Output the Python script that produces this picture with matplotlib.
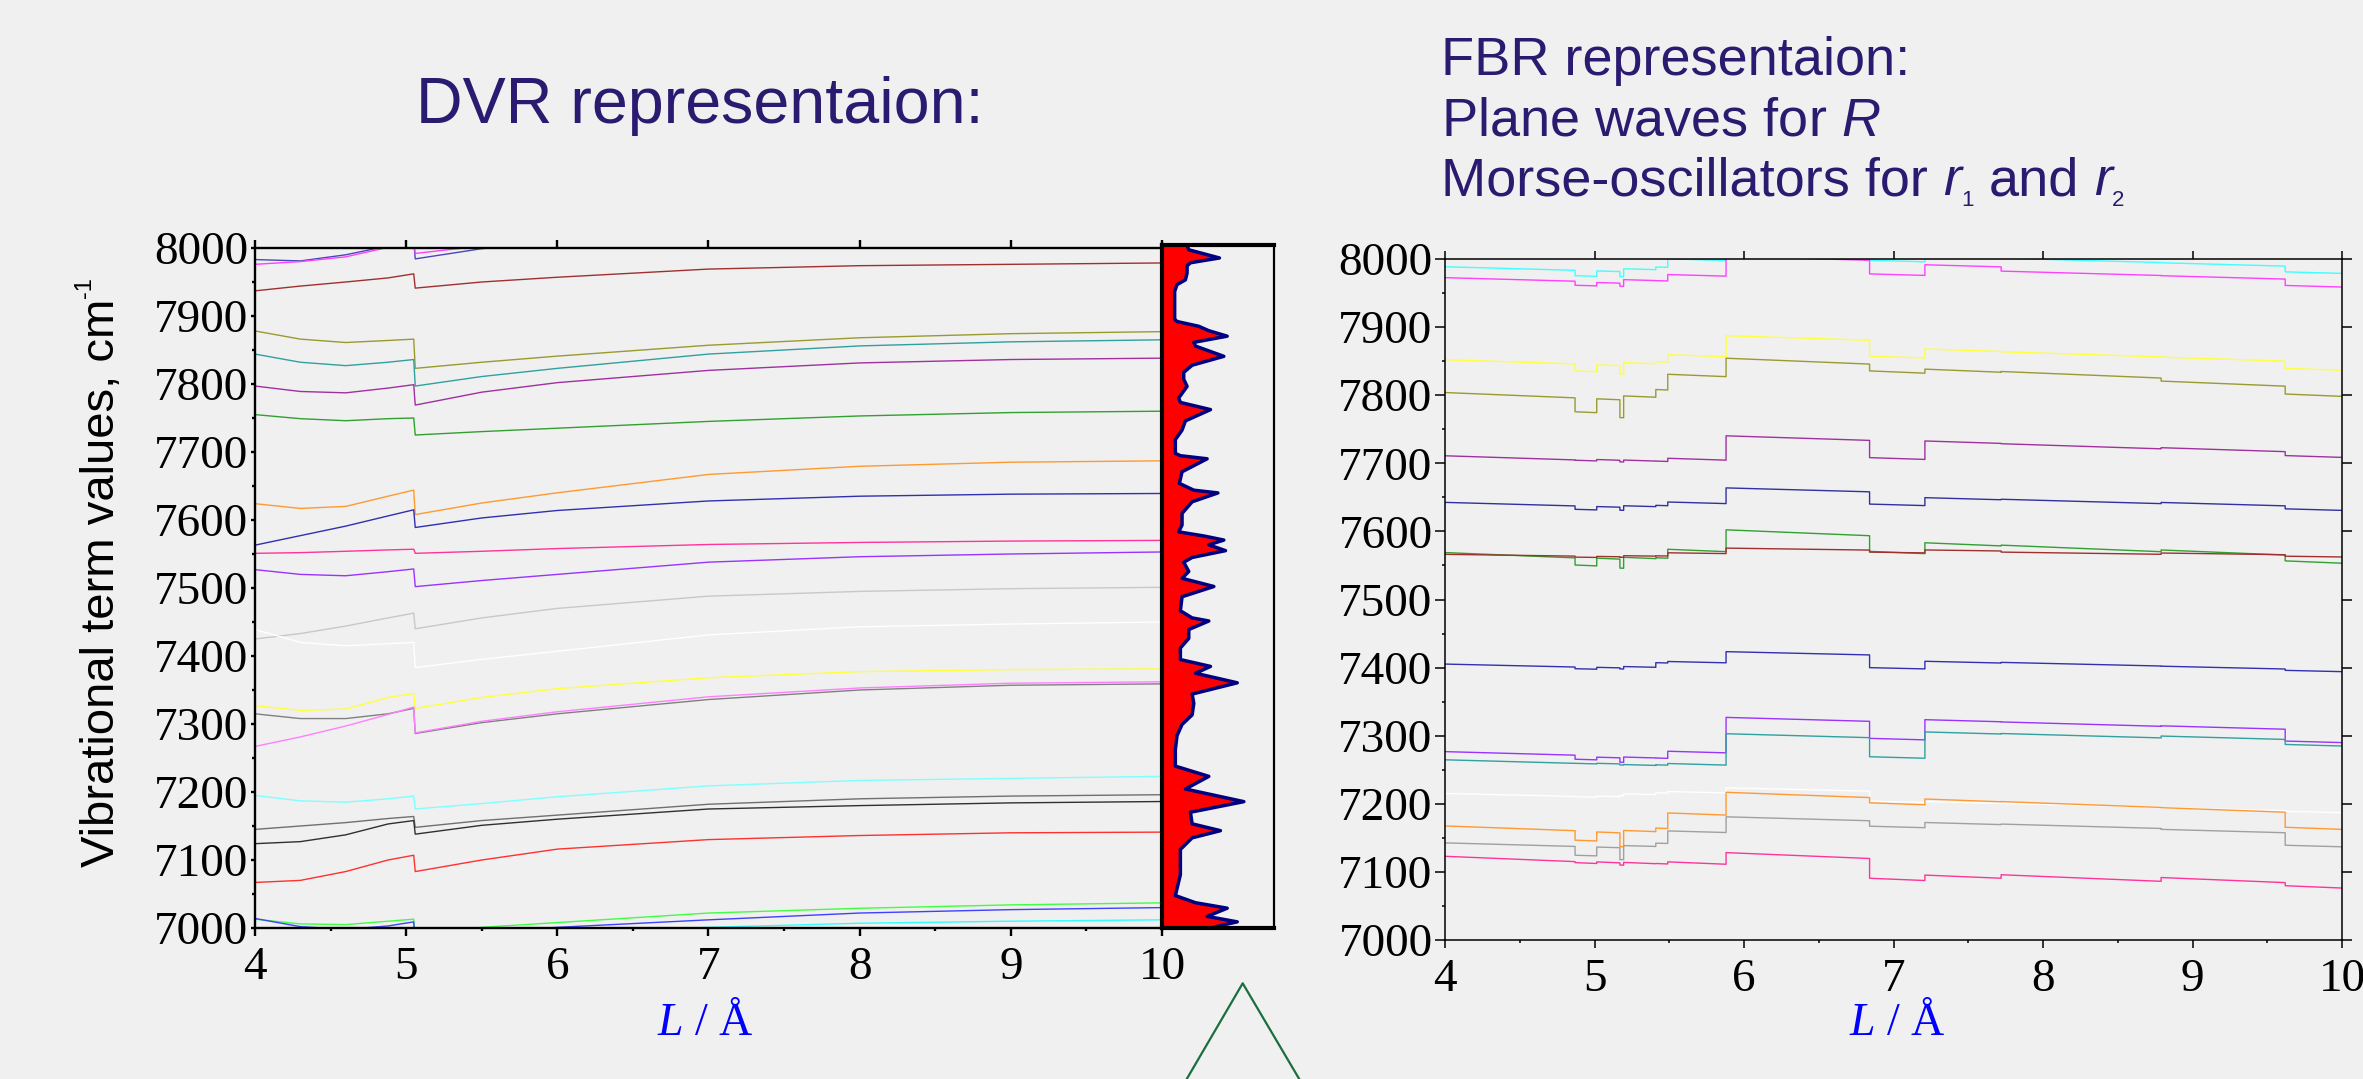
import numpy as np
import matplotlib
matplotlib.use("Agg")
import matplotlib.pyplot as plt
from matplotlib.lines import Line2D
from matplotlib.ticker import MultipleLocator

# ---------------- data ----------------
# DVR panel: term values (cm-1) read at these L values
dvr_L = [4.0, 4.3, 4.6, 4.88, 5.05, 5.06, 5.5, 6.0, 7.0, 8.0, 9.0, 10.0]
dvr_curves = [
    ("#4848b8", [7983, 7981, 7990, 8003, 8010, 7984, 7999, 8010, 8025, 8032, 8036, 8038]),
    ("#ff40ff", [7976, 7980, 7987, 8001, 8008, 7992, 8003, 8012, 8025, 8032, 8036, 8038]),
    ("#a03030", [7937, 7944, 7950, 7956, 7962, 7941, 7950, 7957, 7969, 7974, 7976, 7978]),
    ("#9a9a30", [7878, 7866, 7861, 7864, 7866, 7823, 7832, 7841, 7857, 7868, 7874, 7877]),
    ("#30a0a0", [7844, 7832, 7827, 7832, 7836, 7797, 7811, 7823, 7844, 7856, 7862, 7865]),
    ("#a030a0", [7797, 7789, 7787, 7794, 7799, 7769, 7788, 7802, 7820, 7831, 7836, 7838]),
    ("#30a030", [7755, 7749, 7746, 7749, 7750, 7725, 7730, 7735, 7745, 7753, 7758, 7760]),
    ("#ff9a30", [7624, 7617, 7620, 7635, 7644, 7608, 7625, 7640, 7667, 7679, 7685, 7687]),
    ("#3030b0", [7563, 7577, 7591, 7606, 7615, 7589, 7603, 7614, 7628, 7635, 7638, 7639]),
    ("#ff3399", [7551, 7552, 7554, 7556, 7557, 7551, 7554, 7558, 7564, 7567, 7569, 7570]),
    ("#9933ff", [7527, 7520, 7518, 7524, 7528, 7502, 7511, 7520, 7538, 7546, 7550, 7553]),
    ("#c8c8c8", [7425, 7433, 7444, 7456, 7463, 7440, 7456, 7470, 7488, 7495, 7499, 7501]),
    ("#ffffff", [7439, 7420, 7415, 7418, 7420, 7383, 7395, 7407, 7431, 7443, 7447, 7450]),
    ("#ffff40", [7327, 7320, 7322, 7339, 7345, 7323, 7339, 7352, 7368, 7377, 7380, 7381]),
    ("#808080", [7315, 7308, 7308, 7315, 7323, 7286, 7302, 7315, 7336, 7350, 7357, 7359]),
    ("#ff80ff", [7267, 7281, 7297, 7314, 7325, 7287, 7304, 7318, 7340, 7353, 7360, 7362]),
    ("#80ffff", [7195, 7187, 7185, 7190, 7194, 7175, 7183, 7193, 7209, 7217, 7220, 7223]),
    ("#707070", [7145, 7150, 7155, 7161, 7164, 7148, 7158, 7166, 7182, 7190, 7194, 7196]),
    ("#303030", [7124, 7127, 7137, 7153, 7158, 7138, 7151, 7160, 7175, 7180, 7184, 7186]),
    ("#ff3030", [7067, 7070, 7083, 7100, 7107, 7083, 7100, 7116, 7130, 7136, 7140, 7141]),
    ("#40ff40", [7013, 7006, 7005, 7010, 7013, 6985, 7001, 7008, 7022, 7029, 7034, 7037]),
    ("#4040ff", [7014, 7002, 6998, 7003, 7009, 6975, 6994, 7001, 7012, 7022, 7027, 7030]),
    ("#30ffff", [6960, 6970, 6975, 6980, 6982, 6970, 6985, 6993, 7001, 7007, 7010, 7012]),
]

# Spectrum beside the DVR panel: energy (cm-1) and relative intensity
spec_E = [8000, 7993, 7981, 7974, 7969.5, 7959, 7949, 7942, 7932, 7891.5,
          7888, 7881, 7874.5, 7866.5, 7857.5, 7852, 7837, 7824, 7813.5, 7803.5,
          7793, 7776, 7769.5, 7759, 7742.5, 7729, 7715, 7695, 7691.5, 7687,
          7668, 7651, 7641, 7637, 7624, 7607, 7590, 7580, 7574, 7568,
          7561, 7552.5, 7542.5, 7535.5, 7522, 7512, 7500, 7485, 7464.5, 7454,
          7449.5, 7437, 7424, 7410, 7393, 7383, 7373, 7359, 7342.5, 7329,
          7312, 7298, 7281.5, 7261, 7237, 7222, 7203.5, 7185, 7169.5, 7152.5,
          7142.5, 7132, 7115, 7078, 7047.5, 7037, 7029, 7017, 7009, 7002,
          7000]
spec_I = [0.224, 0.239, 0.513, 0.254, 0.224, 0.224, 0.209, 0.134, 0.113, 0.113,
          0.134, 0.328, 0.418, 0.582, 0.284, 0.299, 0.552, 0.269, 0.194, 0.194,
          0.224, 0.149, 0.164, 0.433, 0.209, 0.179, 0.119, 0.119, 0.164, 0.403,
          0.179, 0.155, 0.284, 0.499, 0.269, 0.179, 0.179, 0.149, 0.373, 0.552,
          0.418, 0.567, 0.269, 0.194, 0.239, 0.179, 0.463, 0.179, 0.164, 0.269,
          0.418, 0.239, 0.239, 0.164, 0.164, 0.433, 0.299, 0.672, 0.269, 0.284,
          0.269, 0.179, 0.134, 0.119, 0.119, 0.418, 0.209, 0.731, 0.254, 0.269,
          0.522, 0.269, 0.164, 0.164, 0.119, 0.299, 0.582, 0.403, 0.672, 0.478,
          0.45]

# FBR panel: level of each curve on each L interval (mid-interval reading)
fbr_edges = [4.0, 4.87, 5.015, 5.17, 5.195, 5.41, 5.49, 5.88, 6.84, 7.21, 7.72, 8.79, 9.62, 10.0]
fbr_curves = [
    ("#40ffff", [7986, 7975, 7982, 7974, 7985, 7988, 7999, 8005, 7997, 8002, 7998, 7992, 7980]),
    ("#ff40ff", [7970, 7961, 7965, 7960, 7969, 7968, 7976, 8001, 7977, 7990, 7979, 7973, 7960]),
    ("#ffff40", [7849, 7835, 7844, 7831, 7847, 7849, 7858, 7884, 7856, 7866, 7860, 7853, 7838]),
    ("#9a9a30", [7800, 7775, 7794, 7767, 7798, 7808, 7829, 7850, 7834, 7836, 7830, 7817, 7800]),
    ("#a030a0", [7708, 7704, 7705, 7702, 7704, 7703, 7706, 7737, 7707, 7731, 7725, 7720, 7710]),
    ("#3030a0", [7640, 7632, 7636, 7631, 7637, 7638, 7642, 7661, 7639, 7648, 7644, 7640, 7632]),
    ("#30a030", [7565, 7550, 7560, 7546, 7561, 7561, 7572, 7598, 7569, 7581, 7575, 7569, 7555]),
    ("#a03030", [7565, 7562, 7563, 7562, 7564, 7564, 7568, 7574, 7569, 7572, 7568, 7567, 7563]),
    ("#3030b0", [7403, 7398, 7400, 7398, 7401, 7407, 7408, 7421, 7399, 7408, 7405, 7400, 7395]),
    ("#9933ff", [7274, 7265, 7268, 7261, 7268, 7267, 7276, 7324, 7295, 7322, 7317, 7312, 7291]),
    ("#30a0a0", [7262, 7259, 7259, 7257, 7257, 7257, 7258, 7300, 7268, 7304, 7300, 7297, 7286]),
    ("#ffffff", [7213, 7210, 7211, 7212, 7214, 7216, 7217, 7221, 7203, 7202, 7198, 7192, 7188]),
    ("#ff9933", [7164, 7146, 7158, 7137, 7160, 7164, 7185, 7213, 7200, 7205, 7199, 7191, 7164]),
    ("#a0a0a0", [7140, 7124, 7136, 7118, 7138, 7142, 7159, 7178, 7166, 7171, 7167, 7160, 7138]),
    ("#ff3399", [7119, 7113, 7114, 7110, 7113, 7112, 7113, 7124, 7089, 7093, 7091, 7088, 7078]),
]
# drift of each FBR curve inside an interval (cm-1 per Angstrom)
fbr_drift = [6, 6, 7, 9, 7, 6, 9, 3, 5, 6, 6, 5, 8, 6, 9]

x_ticks = [4, 5, 6, 7, 8, 9, 10]
y_ticks = [7000, 7100, 7200, 7300, 7400, 7500, 7600, 7700, 7800, 7900, 8000]

title_dvr = "DVR representaion:"
title_fbr1 = "FBR representaion:"
title_fbr2 = r"Plane waves for $\mathit{R}$"
title_fbr3 = [("Morse-oscillators for", "n"), ("r", "i"), ("1", "s"), ("and", "n"),
              ("r", "i"), ("2", "s")]
ylabel_main = "Vibrational term values, cm"
ylabel_sup = "-1"
xlabel = r"$\mathbf{L}$ / Å"

# ---------------- style ----------------
plt.rcParams["font.family"] = ["Liberation Serif", "DejaVu Serif"]
plt.rcParams["mathtext.fontset"] = "custom"
plt.rcParams["mathtext.it"] = "Liberation Sans:italic"
plt.rcParams["mathtext.rm"] = "Liberation Sans"
plt.rcParams["mathtext.sf"] = "Liberation Sans"
plt.rcParams["mathtext.bf"] = "Liberation Serif:italic"

BG = "#f0f0f0"
NAVY = "#2b1b70"
W, H = 2363, 1079
fig = plt.figure(figsize=(W / 100, H / 100), dpi=100, facecolor=BG)

def fx(px):
    return px / W

def fy(py):
    return 1 - py / H

ax1 = fig.add_axes([fx(255), fy(928), fx(1162) - fx(255), fy(248) - fy(928)])
axs = fig.add_axes([fx(1162), fy(928), fx(1274) - fx(1162), fy(245) - fy(928)])
ax2 = fig.add_axes([fx(1445), fy(940), fx(2342) - fx(1445), fy(259) - fy(940)])

for ax in (ax1, axs, ax2):
    ax.set_facecolor("none")

# DVR curves
for col, vals in dvr_curves:
    ax1.plot(dvr_L, vals, color=col, lw=1.0)
ax1.set_xlim(4, 10)
ax1.set_ylim(7000, 8000)

# spectrum
axs.fill_betweenx(spec_E, 0, spec_I, color="#ff0000", lw=0)
axs.plot(spec_I, spec_E, color="#000080", lw=2.5, solid_joinstyle="round")
axs.set_xlim(0, 1)
axs.set_ylim(7000, 8000)
axs.set_xticks([])
axs.set_yticks([])
for s, lw in (("left", 3.0), ("top", 3.0), ("bottom", 3.0), ("right", 1.6)):
    axs.spines[s].set_linewidth(lw)

# FBR curves: each interval drawn as a short, slightly drifting segment
edges = np.array(fbr_edges)
for (col, lev), drift in zip(fbr_curves, fbr_drift):
    lev = np.array(lev, dtype=float)
    half = (edges[1:] - edges[:-1]) / 2.0
    y0 = lev + drift * half
    y1 = lev - drift * half
    xs = np.column_stack([edges[:-1], edges[1:]]).ravel()
    ys = np.column_stack([y0, y1]).ravel()
    ax2.plot(xs, ys, color=col, lw=1.0)
ax2.set_xlim(4, 10)
ax2.set_ylim(7000, 8000)

for ax, slw in ((ax1, 1.7), (ax2, 1.1)):
    ax.set_xticks(x_ticks)
    ax.set_yticks(y_ticks)
    ax.xaxis.set_minor_locator(MultipleLocator(0.5))
    ax.yaxis.set_minor_locator(MultipleLocator(50))
    ax.tick_params(axis="x", which="major", direction="out", length=6, width=slw,
                   top=True, bottom=True, labelsize=34, pad=7)
    ax.tick_params(axis="x", which="minor", direction="out", length=2.5, width=slw,
                   top=False, bottom=True)
    ax.tick_params(axis="y", which="major", direction="out", length=3, width=slw,
                   left=True, labelsize=34, pad=2)
    ax.tick_params(axis="y", which="minor", direction="out", length=2.5, width=slw,
                   left=True, right=False)
    for s in ax.spines.values():
        s.set_linewidth(slw)
    for lab in ax.get_xticklabels() + ax.get_yticklabels():
        lab.set_fontfamily("Liberation Serif")

ax1.spines["right"].set_visible(False)
ax1.tick_params(axis="y", which="both", right=False)
ax2.tick_params(axis="y", which="major", right=True, length=7)

# texts
fig.text(fx(700), fy(123), title_dvr, ha="center", va="baseline", fontsize=46.5,
         color=NAVY, family="Liberation Sans")
fig.text(fx(1441), fy(75), title_fbr1, ha="left", va="baseline", fontsize=39,
         color=NAVY, family="Liberation Sans")
fig.text(fx(1441), fy(135), title_fbr2, ha="left", va="baseline", fontsize=39,
         color=NAVY, family="Liberation Sans")

renderer = fig.canvas.get_renderer()
tmp = fig.text(0, 0, "a a", fontsize=39, family="Liberation Sans")
w_sp = tmp.get_window_extent(renderer).width
tmp.set_text("aa")
w_sp -= tmp.get_window_extent(renderer).width
tmp.remove()
xcur = 1441.0
for i, (piece, kind) in enumerate(title_fbr3):
    if kind == "n":
        if i > 0:
            xcur += w_sp
        t = fig.text(fx(xcur), fy(195), piece, ha="left", va="baseline", fontsize=39,
                     color=NAVY, family="Liberation Sans")
    elif kind == "i":
        xcur += w_sp
        t = fig.text(fx(xcur), fy(195), piece, ha="left", va="baseline", fontsize=39,
                     color=NAVY, family="Liberation Sans", style="italic")
    else:
        t = fig.text(fx(xcur), fy(206), piece, ha="left", va="baseline", fontsize=16,
                     color=NAVY, family="Liberation Sans")
    xcur = t.get_window_extent(renderer).x1

# y label (rotated) with a small superscript
ty = fig.text(fx(102), fy(867), ylabel_main, rotation=90, ha="center", va="bottom",
              fontsize=34, color="black", family="Liberation Sans")
top_px = H - ty.get_window_extent(renderer).y1
fig.text(fx(85), fy(top_px - 1), ylabel_sup, rotation=90, ha="center", va="bottom",
         fontsize=17, color="black", family="Liberation Sans")

fig.text(fx(705), fy(1035), xlabel, ha="center", va="baseline", fontsize=33,
         color="#0000ff", family="Liberation Serif")
fig.text(fx(1897), fy(1035), xlabel, ha="center", va="baseline", fontsize=33,
         color="#0000ff", family="Liberation Serif")

# green triangle decoration
fig.add_artist(Line2D([fx(1185), fx(1242.7), fx(1301)], [fy(1082), fy(983.3), fy(1082)],
                      transform=fig.transFigure, color="#1a6e40", lw=1.6))

fig.savefig("out.png", dpi=100, facecolor=BG)
